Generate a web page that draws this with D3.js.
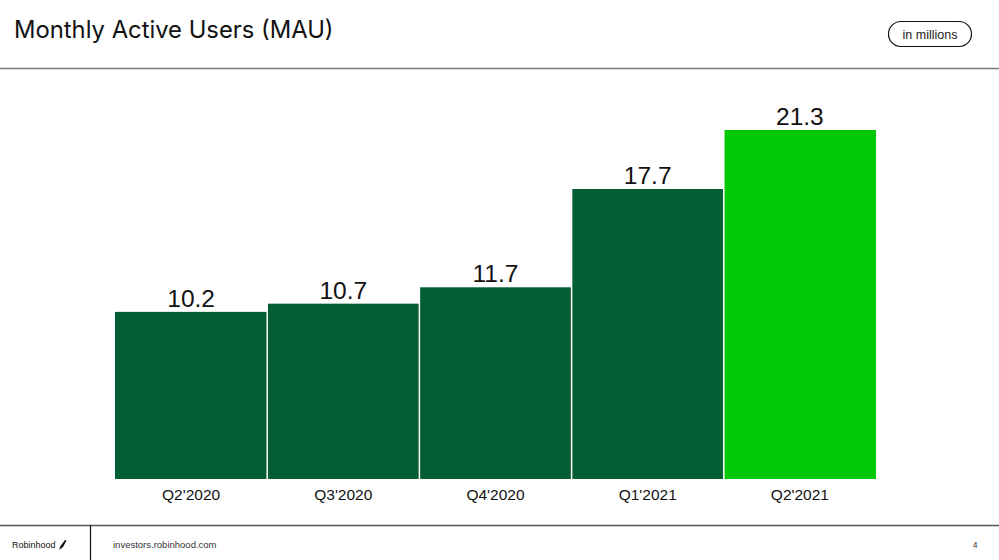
<!DOCTYPE html>
<html><head><meta charset="utf-8">
<script src="https://cdn.jsdelivr.net/npm/d3@7/dist/d3.min.js"></script>
<style>
html,body{margin:0;padding:0;background:#fff;}
svg{display:block;}
</style></head>
<body>
<svg id="c" width="999" height="560"></svg>
<script>
const categories = ["Q2'2020","Q3'2020","Q4'2020","Q1'2021","Q2'2021"];
const values = [10.2, 10.7, 11.7, 17.7, 21.3];
const barColors = ["#035e33","#035e33","#035e33","#035e33","#00c805"];

const svg = d3.select("#c");
const W = 999, H = 560;

// header
svg.append("text").attr("x",14).attr("y",38)
  .attr("font-family","Inter, 'Liberation Sans', sans-serif").attr("font-size",23.8)
  .attr("fill","#111").text("Monthly Active Users (MAU)");
svg.append("line").attr("x1",0).attr("x2",W).attr("y1",68.5).attr("y2",68.5)
  .attr("stroke","#777").attr("stroke-width",1.5);
svg.append("rect").attr("x",888.5).attr("y",21.5).attr("width",83).attr("height",25).attr("rx",12.5)
  .attr("fill","#fff").attr("stroke","#111").attr("stroke-width",1.2);
svg.append("text").attr("x",930).attr("y",38.5).attr("text-anchor","middle")
  .attr("font-family","'Liberation Sans', Arial, sans-serif").attr("font-size",12.5)
  .attr("fill","#222").text("in millions");

// chart
const x = d3.scaleBand().domain(categories).range([115, 876]).padding(0);
const y = d3.scaleLinear().domain([0, 21.3]).range([479, 130]);
const gap = 1.5;

svg.append("g").selectAll("rect").data(values).join("rect")
  .attr("x",(d,i)=>x(categories[i]) + (i>0?gap/2:0))
  .attr("width",(d,i)=>x.bandwidth() - (i>0?gap/2:0) - (i<values.length-1?gap/2:0))
  .attr("y",d=>y(d)).attr("height",d=>y(0)-y(d))
  .attr("fill",(d,i)=>barColors[i]);

svg.append("g").selectAll("text").data(values).join("text")
  .attr("x",(d,i)=>x(categories[i]) + x.bandwidth()/2)
  .attr("y",d=>y(d)-5)
  .attr("text-anchor","middle")
  .attr("font-family","'Liberation Sans', Arial, sans-serif").attr("font-size",24.5)
  .attr("fill","#111").text(d=>d.toFixed(1));

const xAxis = svg.append("g").attr("transform",`translate(0,${y(0)})`)
  .call(d3.axisBottom(x).tickSize(0).tickPadding(10));
xAxis.select(".domain").remove();
xAxis.selectAll("text").attr("font-family","'Liberation Sans', Arial, sans-serif")
  .attr("font-size",15.5).attr("fill","#111");

// footer
svg.append("line").attr("x1",0).attr("x2",W).attr("y1",525.5).attr("y2",525.5)
  .attr("stroke","#555").attr("stroke-width",1.3);
svg.append("line").attr("x1",90.5).attr("x2",90.5).attr("y1",525).attr("y2",H)
  .attr("stroke","#111").attr("stroke-width",1.2);
svg.append("text").attr("x",12).attr("y",548)
  .attr("font-family","'Liberation Sans', Arial, sans-serif").attr("font-size",9)
  .attr("fill","#111").text("Robinhood");
svg.append("path").attr("d","M59,550 L60.5,546 L65,540 L66.5,540.5 L63,547 Z")
  .attr("fill","#111");
svg.append("text").attr("x",113).attr("y",548)
  .attr("font-family","'Liberation Sans', Arial, sans-serif").attr("font-size",9.5)
  .attr("fill","#333").text("investors.robinhood.com");
svg.append("text").attr("x",975).attr("y",548).attr("text-anchor","middle")
  .attr("font-family","'Liberation Sans', Arial, sans-serif").attr("font-size",8.5)
  .attr("fill","#333").text("4");
</script>
</body></html>
